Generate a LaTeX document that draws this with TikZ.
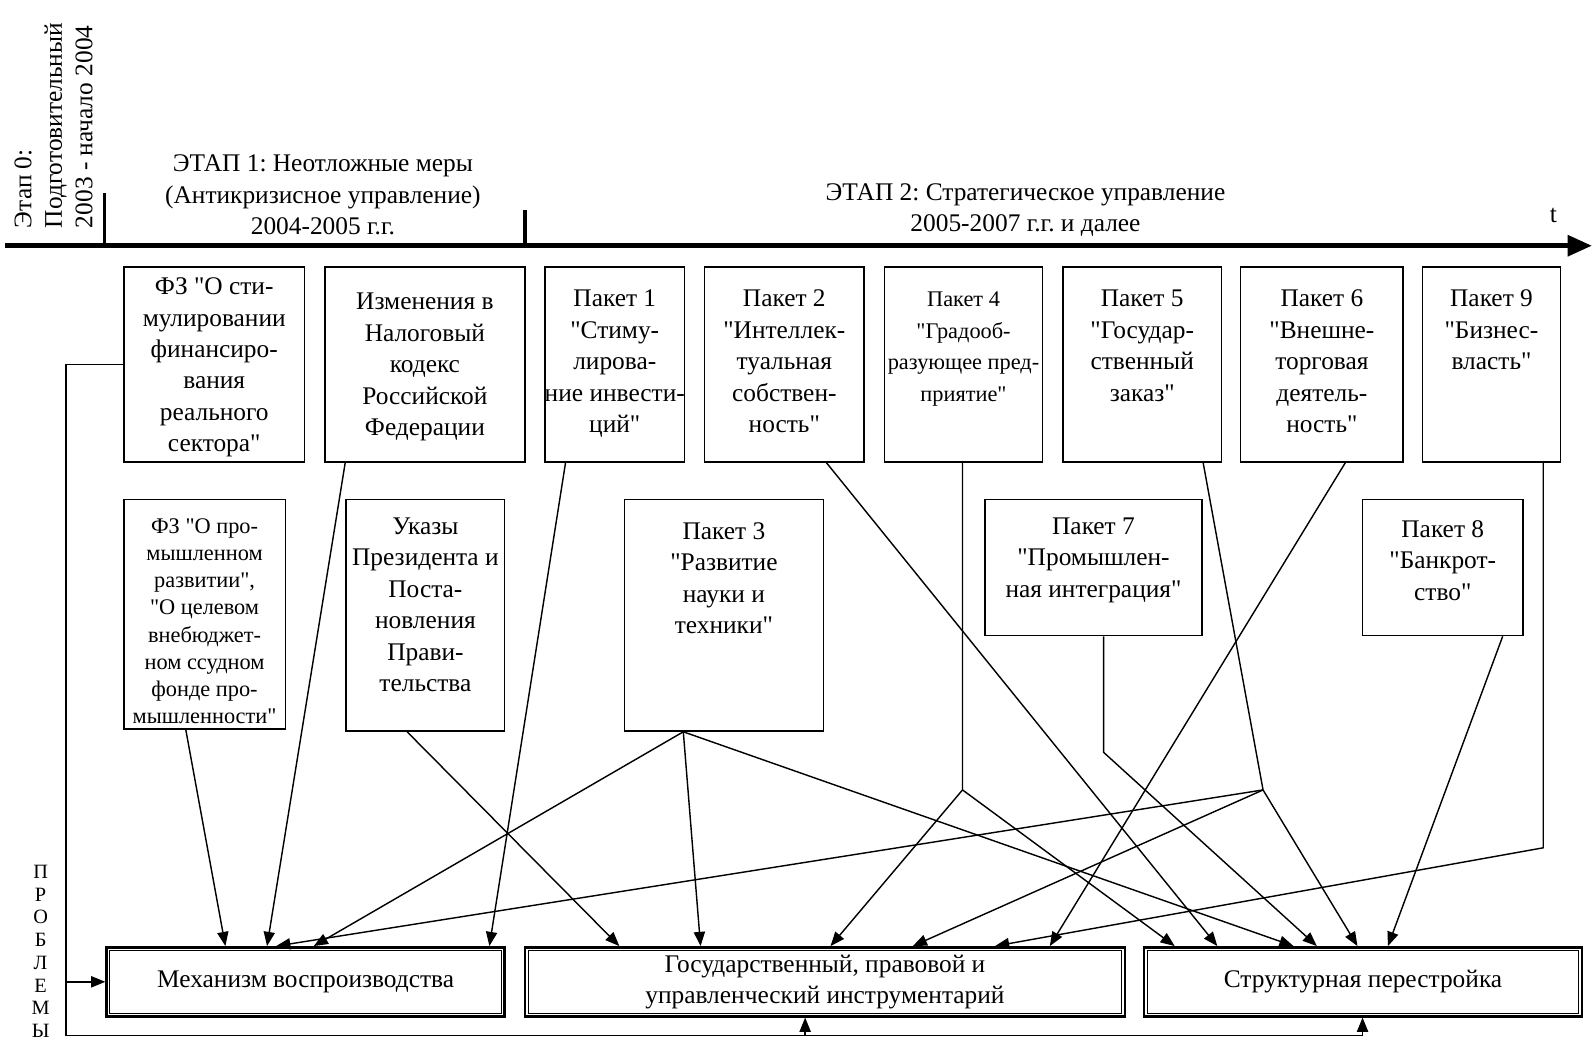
\documentclass[tikz,border=0pt]{standalone}
\usepackage{fontspec}
\setmainfont{Liberation Serif}
\setmonofont{Liberation Serif}
\newcommand{\dq}{{\ttfamily\symbol{34}}}
\frenchspacing
\usetikzlibrary{arrows.meta,fit,calc}
\begin{document}
\begin{tikzpicture}[x=0.5pt,y=-0.5pt,
  box/.style={draw, line width=0.75pt, inner sep=0pt},
  bigbox/.style={draw, line width=1.2pt, inner sep=0pt},
  btxt/.style={font=\fontsize{12.5}{15.5}\selectfont, align=center, inner sep=0pt, anchor=north},
  stxt/.style={font=\fontsize{11}{13.4}\selectfont, align=center, inner sep=0pt, anchor=north},
  ctxt/.style={font=\fontsize{12.5}{15.5}\selectfont, align=center, inner sep=0pt},
  conn/.style={line width=0.7pt},
  arr/.style={line width=0.7pt, -{Triangle[length=7pt,width=5.5pt]}},
  tick/.style={line width=1.6pt},
  rlab/.style={rotate=90, anchor=base west, inner sep=0pt, font=\fontsize{12.5}{15}\selectfont},
]
\useasboundingbox (0,0) rectangle (1568,1025);

% ---- timeline ----
\coordinate (tl0) at (5,242);
\coordinate (tl1) at (1568,242);
\draw[line width=2.5pt, -{Triangle[length=12pt,width=10pt]}] (tl0) -- (tl1);
\draw[tick] (103,190) -- (103,242);
\draw[tick] (517,207) -- (517,242);
\node[rlab] (e0a) at (31,225) {Этап 0:};
\node[rlab] (e0b) at (61,225) {Подготовительный};
\node[rlab] (e0c) at (91,225) {2003 - начало 2004};
\node[btxt] (st1) at (318,147) {\strut ЭТАП 1: Неотложные меры\\(Антикризисное управление)\\2004-2005 г.г.};
\node[btxt] (st2) at (1010,175) {\strut ЭТАП 2: Стратегическое управление\\2005-2007 г.г. и далее};
\node[ctxt] (tlab) at (1530,212) {t};

% ---- top row ----
\node[box, fit={(122,263)(300,455)}] (fz1) {};
\node[btxt] (fz1t) at (fz1.north |- 0,268) {\strut ФЗ \dq О сти-\\мулировании\\финансиро-\\вания\\реального\\сектора\dq};
\node[box, fit={(320,263)(517,455)}] (izm) {};
\node[btxt] (izmt) at (izm.north |- 0,283) {\strut Изменения в\\Налоговый\\кодекс\\Российской\\Федерации};
\node[box, fit={(537,263)(674,455)}] (p1) {};
\node[btxt] (p1t) at (p1.north |- 0,280) {\strut Пакет 1\\\dq Стиму-\\лирова-\\ние инвести-\\ций\dq};
\node[box, fit={(694,263)(851,455)}] (p2) {};
\node[btxt] (p2t) at (p2.north |- 0,280) {\strut Пакет 2\\\dq Интеллек-\\туальная\\собствен-\\ность\dq};
\node[box, fit={(871,263)(1027,455)}] (p4) {};
\node[btxt, font=\fontsize{11}{15.5}\selectfont] (p4t) at (p4.north |- 0,280) {\strut Пакет 4\\\dq Градооб-\\разующее пред-\\приятие\dq};
\node[box, fit={(1047,263)(1203,455)}] (p5) {};
\node[btxt] (p5t) at (p5.north |- 0,280) {\strut Пакет 5\\\dq Государ-\\ственный\\заказ\dq};
\node[box, fit={(1222,263)(1382,455)}] (p6) {};
\node[btxt] (p6t) at (p6.north |- 0,280) {\strut Пакет 6\\\dq Внешне-\\торговая\\деятель-\\ность\dq};
\node[box, fit={(1401,263)(1537,455)}] (p9) {};
\node[btxt] (p9t) at (p9.north |- 0,280) {\strut Пакет 9\\\dq Бизнес-\\власть\dq};

% ---- second row ----
\node[box, fit={(122,492)(281,718)}] (fz2) {};
\node[stxt] (fz2t) at (fz2.north |- 0,506) {\strut ФЗ \dq О про-\\мышленном\\развитии\dq,\\\dq О целевом\\внебюджет-\\ном ссудном\\фонде про-\\мышленности\dq};
\node[box, fit={(341,492)(497,720)}] (ukz) {};
\node[btxt] (ukzt) at (ukz.north |- 0,504) {\strut Указы\\Президента и\\Поста-\\новления\\Прави-\\тельства};
\node[box, fit={(615,492)(811,720)}] (p3) {};
\node[btxt] (p3t) at (p3.north |- 0,509) {\strut Пакет 3\\\dq Развитие\\науки и\\техники\dq};
\node[box, fit={(970,492)(1184,626)}] (p7) {};
\node[btxt] (p7t) at (p7.north |- 0,504) {\strut Пакет 7\\\dq Промышлен-\\ная интеграция\dq};
\node[box, fit={(1342,492)(1500,626)}] (p8) {};
\node[btxt] (p8t) at (p8.north |- 0,507) {\strut Пакет 8\\\dq Банкрот-\\ство\dq};

% ---- bottom row ----
\node[bigbox, fit={(105,933)(497,1001)}] (mech) {};
\node[bigbox, fit={(517,933)(1108,1001)}] (gos) {};
\node[bigbox, fit={(1127,933)(1558,1001)}] (str) {};
\foreach \b in {mech,gos,str}
  \draw[line width=0.5pt] ([shift={(2.2pt,-2.2pt)}]\b.north west) rectangle ([shift={(-2.2pt,2.2pt)}]\b.south east);
\node[ctxt] (mecht) at (mech.center) {Механизм воспроизводства};
\node[ctxt] (gost) at (gos.center) {Государственный, правовой и\\управленческий инструментарий};
\node[ctxt] (strt) at (str.center) {Структурная перестройка};

\node[font=\fontsize{10}{11.2}\selectfont, align=center, inner sep=0pt, anchor=north] (prob) at (40,849) {\strut П\\Р\\О\\Б\\Л\\Е\\М\\Ы};

% ---- connectors ----
\draw[arr] (183,0 |- fz2.south) -- (222,0 |- mech.north);
\draw[arr] (340,0 |- izm.south) -- (263,0 |- mech.north);
\draw[arr] (557,0 |- p1.south) -- (482,0 |- mech.north);
\coordinate (p3b) at (673,0 |- p3.south);
\draw[arr] (p3b) -- (309,0 |- mech.north);
\draw[arr] (p3b) -- (690,0 |- gos.north);
\draw[arr] (p3b) -- (1274,0 |- str.north);
\draw[arr] (401,0 |- ukz.south) -- (610,0 |- gos.north);
\coordinate (j4) at (948,778);
\draw[arr] (948,0 |- p4.south) -- (j4) -- (818,0 |- gos.north);
\draw[arr] (j4) -- (1157,0 |- str.north);
\draw[arr] (814,0 |- p2.south) -- (1199,0 |- str.north);
\coordinate (j5) at (1244,778);
\draw[arr] (1185,0 |- p5.south) -- (j5) -- (1337,0 |- str.north);
\draw[arr] (j5) -- (272,0 |- mech.north);
\draw[arr] (j5) -- (899,0 |- gos.north);
\draw[arr] (1325,0 |- p6.south) -- (1034,0 |- gos.north);
\coordinate (j7) at (1087,741);
\draw[arr] (1087,0 |- p7.south) -- (j7) -- (1297,0 |- str.north);
\draw[arr] (1480,0 |- p8.south) -- (1367,0 |- str.north);
\coordinate (j9) at (1520,835);
\draw[arr] (1520,0 |- p9.south) -- (j9) -- (980,0 |- gos.north);

% ---- feedback loop ----
\coordinate (fbc) at (65,1020);
\coordinate (fbr) at (1342,1020);
\draw[conn] (fz1.west) -- (65,0 |- fz1.west) -- (fbc) -- (fbr);
\draw[arr] (fbr) -- (1342,0 |- str.south);
\draw[arr] (793,1020) -- (793,0 |- gos.south);
\draw[arr] (65,0 |- mech.west) -- (mech.west);
\end{tikzpicture}
\end{document}
